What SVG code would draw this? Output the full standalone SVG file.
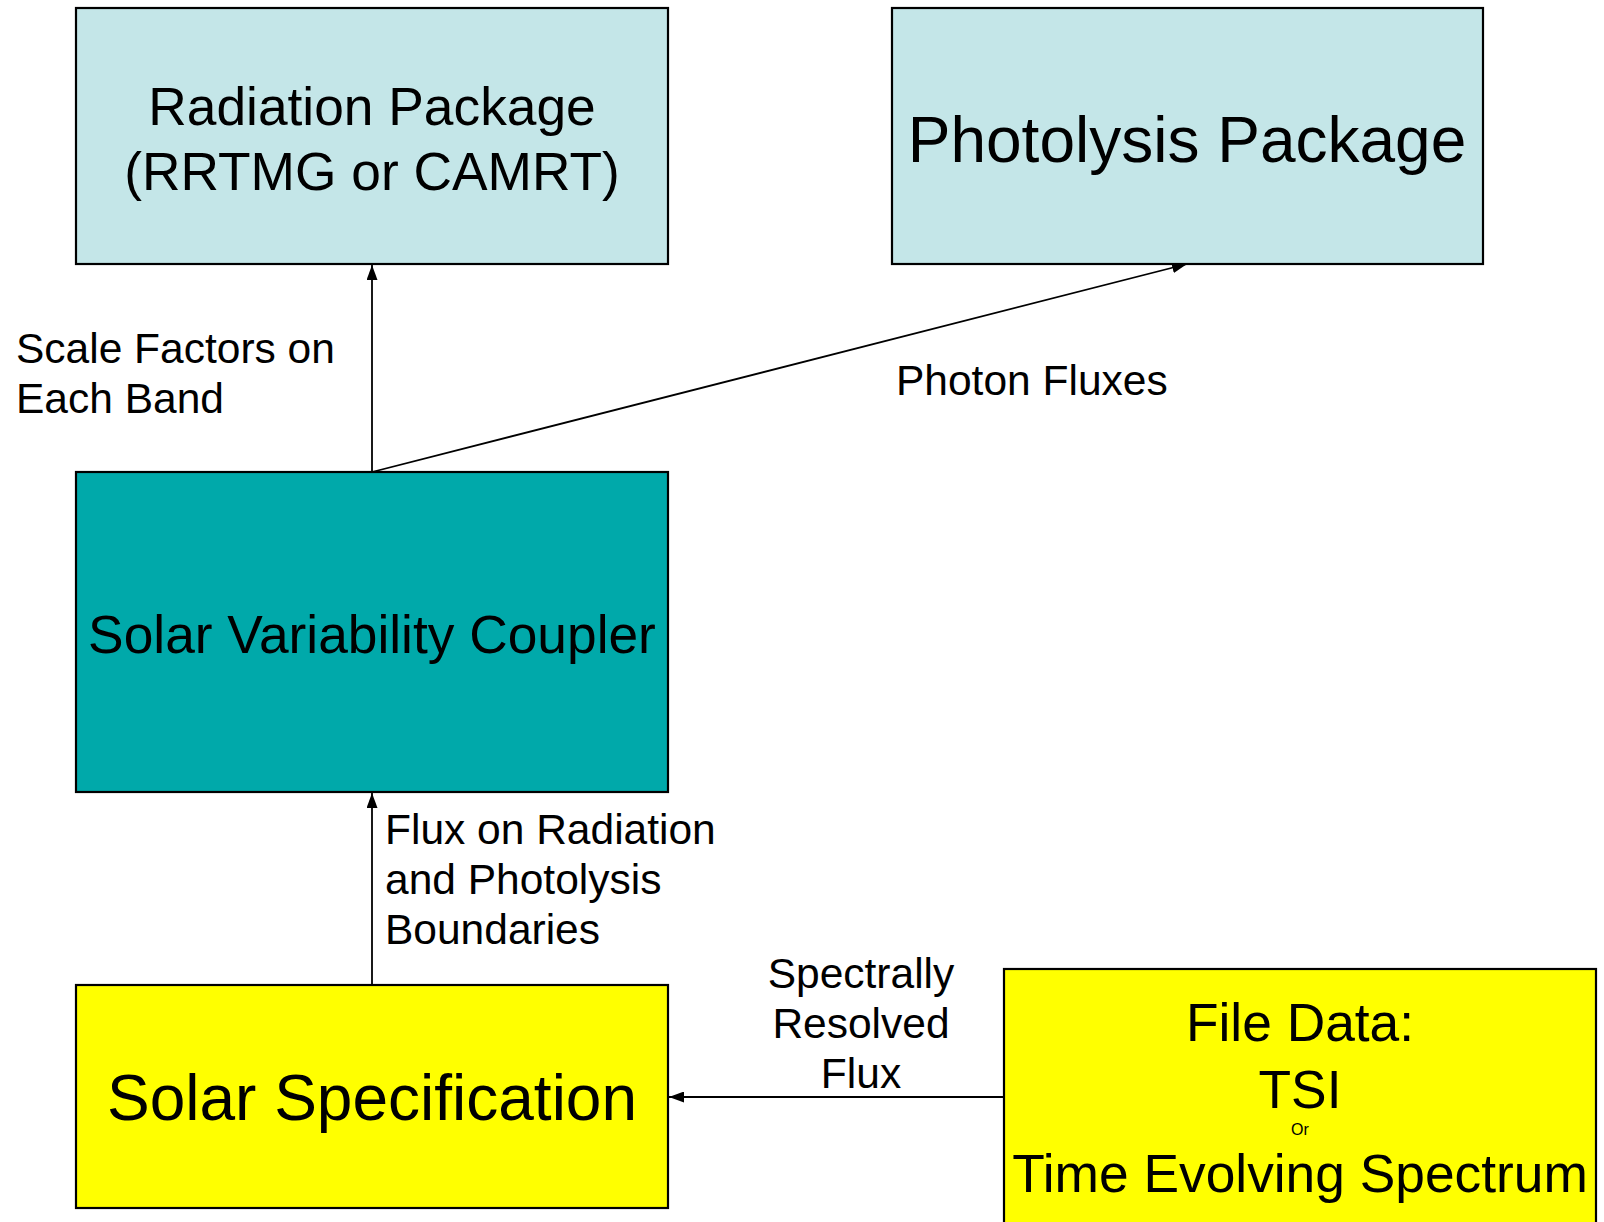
<svg xmlns="http://www.w3.org/2000/svg" width="1604" height="1222" viewBox="0 0 1604 1222">
<style>
.box{stroke:#000;stroke-width:2.2}
.light{fill:#C4E6E8}
.teal{fill:#00A9AA}
.yellow{fill:#FFFF00}
text{font-family:"Liberation Sans",Arial,sans-serif;fill:#000}
.big{font-size:53.3px;text-anchor:middle}
.huge{font-size:64px;text-anchor:middle}
.lbl{font-size:42.5px}
.conn{stroke:#000;stroke-width:1.8;fill:none}
</style>
<defs>
<marker id="arr" viewBox="0 0 15 11" refX="15" refY="5.5" markerWidth="15" markerHeight="11" markerUnits="userSpaceOnUse" orient="auto">
<path d="M0,0 L15,5.5 L0,11 Z" fill="#000"/>
</marker>
</defs>
<rect width="1604" height="1222" fill="#fff"/>
<g id="connectors">
<line class="conn" x1="372" y1="472" x2="372" y2="265" marker-end="url(#arr)"/>
<line class="conn" x1="372" y1="472" x2="1187" y2="264" marker-end="url(#arr)"/>
<line class="conn" x1="372" y1="985" x2="372" y2="793" marker-end="url(#arr)"/>
<line class="conn" x1="1004" y1="1097" x2="669" y2="1097" marker-end="url(#arr)"/>
<text class="lbl" x="16" y="363">Scale Factors on</text>
<text class="lbl" x="16" y="413">Each Band</text>
<text class="lbl" x="896" y="395">Photon Fluxes</text>
<text class="lbl" x="385" y="844">Flux on Radiation</text>
<text class="lbl" x="385" y="894">and Photolysis</text>
<text class="lbl" x="385" y="944">Boundaries</text>
<text class="lbl" x="861" y="988" text-anchor="middle">Spectrally</text>
<text class="lbl" x="861" y="1038" text-anchor="middle">Resolved</text>
<text class="lbl" x="861" y="1088" text-anchor="middle">Flux</text>
</g>
<g id="radiation">
<rect class="box light" x="76" y="8" width="592" height="256"/>
<text class="big" x="372" y="125">Radiation Package</text>
<text class="big" x="372" y="190">(RRTMG or CAMRT)</text>
</g>
<g id="photolysis">
<rect class="box light" x="892" y="8" width="591" height="256"/>
<text class="huge" x="1187" y="162">Photolysis Package</text>
</g>
<g id="coupler">
<rect class="box teal" x="76" y="472" width="592" height="320"/>
<text class="big" x="372" y="653">Solar Variability Coupler</text>
</g>
<g id="solarspec">
<rect class="box yellow" x="76" y="985" width="592" height="223"/>
<text class="huge" x="372" y="1120">Solar Specification</text>
</g>
<g id="filedata">
<rect class="box yellow" x="1004" y="969" width="592" height="260"/>
<text class="big" x="1300" y="1041">File Data:</text>
<text class="big" x="1300" y="1108">TSI</text>
<text x="1300" y="1135" font-size="16" text-anchor="middle">Or</text>
<text class="big" x="1300" y="1192">Time Evolving Spectrum</text>
</g>
</svg>
